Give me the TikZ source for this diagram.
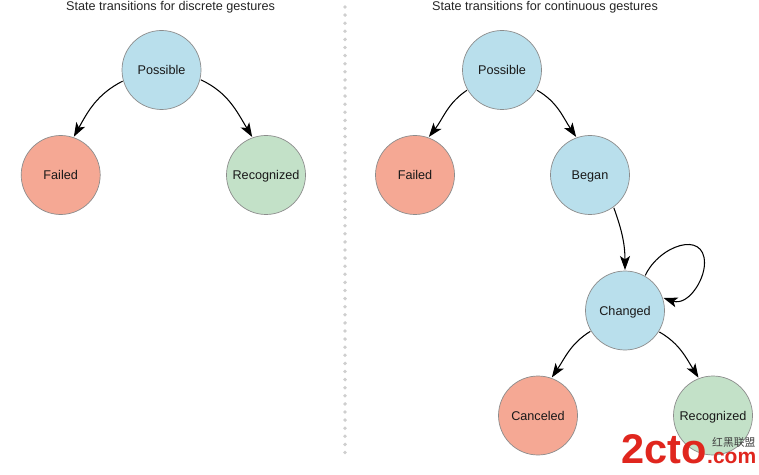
\documentclass[tikz,border=0pt]{standalone}
\usepackage{fontspec}
\setmainfont{Liberation Sans}
\newfontfamily\cjkwm{Noto Sans CJK SC}
\usetikzlibrary{arrows.meta}
\definecolor{stblue}{HTML}{B9DFEC}
\definecolor{stred}{HTML}{F5A894}
\definecolor{stgreen}{HTML}{C3E1C8}
\definecolor{stline}{HTML}{8C8C8C}
\definecolor{dotgray}{HTML}{CFCFCF}
\definecolor{wmred}{HTML}{E0261E}
\tikzset{
  x=1pt,y=1pt,
  stateblob/.style={circle,draw=stline,line width=0.7pt,minimum size=79pt,inner sep=0pt,outer sep=1pt,font=\fontsize{12.65}{14}\selectfont,text=black!90,text height=10pt,text depth=1pt},
  bluest/.style={stateblob,fill=stblue},
  redst/.style={stateblob,fill=stred},
  greenst/.style={stateblob,fill=stgreen},
  trans/.style={draw=black,line width=1.05pt,-{Stealth[length=14pt,width=10pt,inset=3.5pt]}},
  heading/.style={font=\fontsize{12.65}{14}\selectfont,text=black!85,inner sep=0pt},
  divider/.style={draw=dotgray,line width=3.8pt,line cap=round,dash pattern=on 0pt off 8.1pt},
}
\begin{document}
\begin{tikzpicture}
\useasboundingbox (0,0) rectangle (759,474);
\fill[white] (0,0) rectangle (759,474);
\node[heading] (t1) at (170.5,466.5) {State transitions for discrete gestures};
\node[heading] (t2) at (545,466.5) {State transitions for continuous gestures};
\coordinate (dtop) at (345,467);
\coordinate (dbot) at (345,20);
\draw[divider] (dtop) -- (dbot);
% left
\node[bluest] (lp) at (161.5,404) {Possible};
\node[redst] (lf) at (60.7,299) {Failed};
\node[greenst] (lr) at (266,299) {Recognized};
% right
\node[bluest] (rp) at (502,404) {Possible};
\node[redst] (rf) at (415,299) {Failed};
\node[bluest] (rb) at (590,299) {Began};
\node[bluest] (rc) at (625,163.5) {Changed};
\node[redst] (rx) at (538,58.5) {Canceled};
\node[greenst] (rr) at (713,58.5) {Recognized};
\coordinate (loopr) at (704.5,211);
% edges
\draw[trans] (lp.196) to[out=207,in=61] (lf.71);
\draw[trans] (lp.-14) to[out=-25,in=121] (lr.110);
\draw[trans] (rp.210) to[out=214,in=52] (rf.70);
\draw[trans] (rp.-30) to[out=-30,in=124] (rb.110);
\draw[trans] (rb.-54) to[out=-70,in=90] (rc.90);
\draw[trans] (rc.60) .. controls +(14,30) and +(0,33) .. (loopr) .. controls +(0,-18) and +(24,-8) .. (rc.18);
\draw[trans] (rc.211) to[out=212,in=56] (rx.70);
\draw[trans] (rc.-32) to[out=-30,in=122] (rr.111);
% site mark
\node[inner sep=0pt,anchor=base west,text=wmred,font=\fontsize{41.5}{42}\bfseries\selectfont] (wm1) at (621,11) {2cto};
\node[inner sep=0pt,anchor=base west,text=wmred,font=\fontsize{21}{22}\bfseries\selectfont] (wm2) at (707,11) {.com};
\node[inner sep=0pt,anchor=base west,text=black!75,font=\cjkwm\fontsize{10.8}{11}\selectfont] (wm3) at (712,27.5) {红黑联盟};
\end{tikzpicture}
\end{document}
